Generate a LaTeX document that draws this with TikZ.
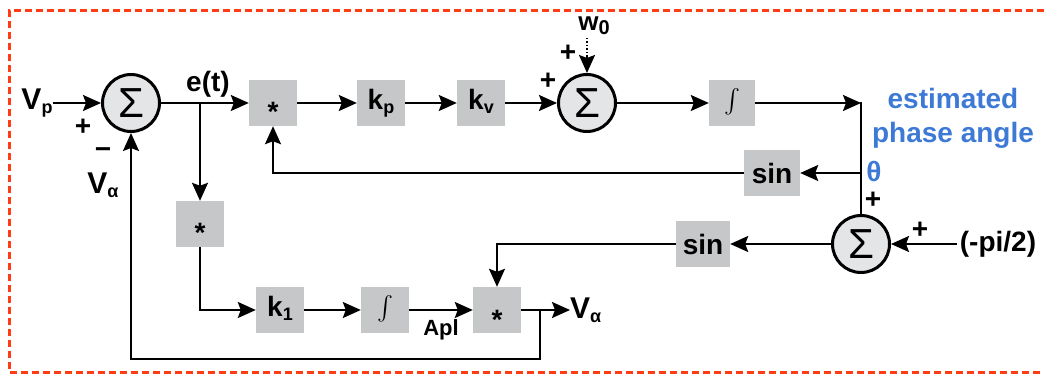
\documentclass[tikz,border=0pt]{standalone}
\usepackage{fontspec}
\setmainfont{Liberation Sans}
\usetikzlibrary{arrows.meta,calc}
\definecolor{bordercol}{RGB}{255,60,20}
\definecolor{boxgray}{RGB}{198,199,201}
\definecolor{sumgray}{RGB}{228,229,231}
\definecolor{textblue}{RGB}{61,122,214}
\newcommand{\mysub}[1]{\raisebox{-4pt}{\fontsize{18}{18}\selectfont #1}}
\newcommand{\ksub}[1]{\raisebox{-4pt}{\fontsize{18}{18}\selectfont #1\vphantom{p}}}
\newcommand{\bigint}{\scalebox{2.4}{$\int$}}
\begin{document}
\begin{tikzpicture}[x=1pt,y=-1pt,
  font=\fontsize{28}{30}\selectfont\bfseries,
  blk/.style={fill=boxgray, minimum width=48pt, minimum height=46pt, inner sep=0pt},
  sumnode/.style={circle, draw, line width=3pt, fill=sumgray, minimum size=57pt, inner sep=0pt, font=\fontsize{42}{42}\selectfont},
  wire/.style={line width=2pt},
  arr/.style={wire, -{Stealth[length=18pt,width=16pt,inset=3pt]}},
  lbl/.style={inner sep=0pt},
  bluelbl/.style={inner sep=0pt, text=textblue},
  ]
\useasboundingbox (0,0) rectangle (1044,374);
\draw[bordercol, line width=3pt, dash pattern=on 7pt off 4pt] (1044,11) -- (9,11) -- (9,372) -- (1044,372);

% top row
\node[lbl, font=\fontsize{30}{30}\selectfont\bfseries] (vp) at (37,103) {V\mysub{p}};
\node[sumnode] (s1) at (131,103) {Σ};
\node[blk] (m1) at (273,103) {\smash{\raisebox{-19pt}{*}}};
\node[blk] (kp) at (381,103) {k\ksub{p}};
\node[blk] (kv) at (481,103) {k\ksub{v}};
\node[sumnode] (s2) at (587,103) {Σ};
\node[blk, minimum width=46pt] (i1) at (732,103) {\bigint};
\coordinate (c1) at (861,103);
\coordinate (t1) at (861,173);
\coordinate (br) at (200,103);
\node[lbl] (w0) at (594,26) {\fontsize{26}{26}\selectfont w\raisebox{-4pt}{\fontsize{20}{20}\selectfont 0}};
\coordinate (wtop) at (587,38);

% middle
\node[blk, minimum width=56pt] (sin1) at (772,173) {sin};
\node[sumnode] (s3) at (861,244) {Σ};
\node[blk, minimum width=54pt] (sin2) at (703,244) {sin};
\node[lbl, inner sep=3pt] (pi) at (998,244) {(-pi/2)};
\node[blk] (m2) at (200,224) {\smash{\raisebox{-19pt}{*}}};

% bottom row
\node[blk] (k1) at (280,310) {k\ksub{1}};
\node[blk] (i2) at (385,310) {\bigint};
\node[blk] (m3) at (497,310) {\smash{\raisebox{-19pt}{*}}};
\node[lbl, anchor=west, font=\fontsize{30}{30}\selectfont\bfseries] (vout) at (570,310) {V\mysub{α}};
\coordinate (fb) at (540,310);
\coordinate (fbb) at (540,359);

% labels
\node[lbl] (et) at (208,84) {e(t)};
\node[lbl] (plus1) at (83,127) {+};
\node[lbl] (minus1) at (103,153) {−};
\node[lbl, font=\fontsize{30}{30}\selectfont\bfseries] (va) at (103,185) {V\mysub{α}};
\node[lbl] (plus2) at (568,53) {+};
\node[lbl] (plus3) at (548,81) {+};
\node[lbl] (plus4) at (873,200) {+};
\node[lbl] (plus5) at (920,230) {+};
\node[lbl, font=\fontsize{22}{22}\selectfont\bfseries] (apl) at (441,330) {Apl};
\node[bluelbl] (theta) at (874,172) {θ};
\node[bluelbl, align=center, font=\fontsize{28}{34}\selectfont\bfseries] (est) at (953,118) {estimated\\phase angle};

% connectors
\draw[arr] (vp.east) -- (s1.west);
\draw[arr] (s1.east) -- (m1.west);
\draw[arr] (br) -- (m2.north);
\draw[arr] (m1.east) -- (kp.west);
\draw[arr] (kp.east) -- (kv.west);
\draw[arr] (kv.east) -- (s2.west);
\draw[line width=1.5pt, dotted] (wtop) -- ([yshift=16pt]s2.north);
\draw[arr] ([yshift=17pt]s2.north) -- (s2.north);
\draw[arr] (s2.east) -- (i1.west);
\draw[arr] (i1.east) -- (c1);
\draw[wire] ([yshift=1pt]c1) -- (s3.north);
\draw[arr] (t1) -- (sin1.east);
\draw[arr] (sin1.west) -| (m1.south);
\draw[arr] (pi.west) -- (s3.east);
\draw[arr] (s3.west) -- (sin2.east);
\draw[arr] (sin2.west) -| (m3.north);
\draw[arr] (m2.south) |- (k1.west);
\draw[arr] (k1.east) -- (i2.west);
\draw[arr] (i2.east) -- (m3.west);
\draw[arr] (m3.east) -- (vout.west);
\draw[arr] (fb) -- (fbb) -| (s1.south);
\end{tikzpicture}
\end{document}
